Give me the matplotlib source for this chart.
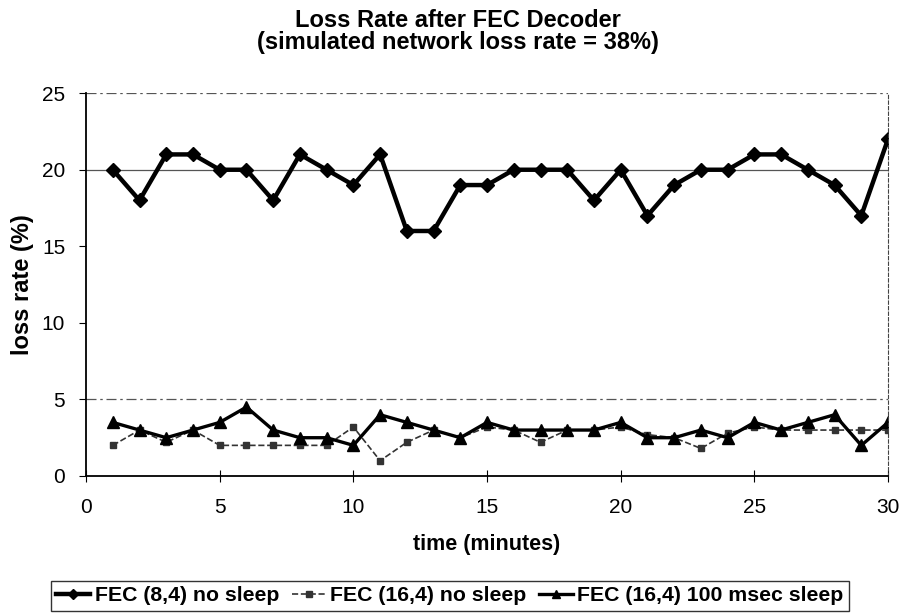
import matplotlib.pyplot as plt

plt.rcParams['font.family'] = ['Liberation Sans', 'DejaVu Sans']

minutes = list(range(1, 31))
fec84_no_sleep = [20, 18, 21, 21, 20, 20, 18, 21, 20, 19, 21, 16, 16, 19, 19,
                  20, 20, 20, 18, 20, 17, 19, 20, 20, 21, 21, 20, 19, 17, 22]
fec164_no_sleep = [2, 3, 2.2, 3, 2, 2, 2, 2, 2, 3.2, 1, 2.2, 3, 2.5, 3.2,
                   3, 2.2, 3, 3, 3.2, 2.7, 2.5, 1.8, 2.8, 3.2, 3, 3, 3, 3, 3]
fec164_100ms = [3.5, 3, 2.5, 3, 3.5, 4.5, 3, 2.5, 2.5, 2, 4, 3.5, 3, 2.5, 3.5,
                3, 3, 3, 3, 3.5, 2.5, 2.5, 3, 2.5, 3.5, 3, 3.5, 4, 2, 3.5]
labels = ['FEC (8,4) no sleep', 'FEC (16,4) no sleep', 'FEC (16,4) 100 msec sleep']

fig = plt.figure(figsize=(9.01, 6.13), dpi=100)
ax = fig.add_axes([0.0955, 0.2235, 0.8901, 0.6245])

# faint gridlines (only these survive in the scan)
for g in [5, 20, 25]:
    ax.axhline(g, color='#555555', lw=0.9, ls=(0, (8, 3, 2, 3)) if g != 20 else '-', zorder=0)

ax.plot(minutes, fec84_no_sleep, color='black', lw=3.2, marker='D', ms=7, label=labels[0])
ax.plot(minutes, fec164_no_sleep, color='#333333', lw=1.2, ls='--', marker='s', ms=5,
        label=labels[1])
ax.plot(minutes, fec164_100ms, color='black', lw=2.4, marker='^', ms=8, label=labels[2])

ax.set_xlim(0, 30)
ax.set_ylim(0, 25)
ax.set_xticks(range(0, 31, 5))
ax.set_yticks(range(0, 26, 5))
ax.tick_params(axis='x', direction='inout', length=8, labelsize=15, pad=12)
ax.tick_params(axis='y', direction='out', length=5, labelsize=15, pad=10)

for s in ['left', 'bottom']:
    ax.spines[s].set_linewidth(1.3)
ax.spines['top'].set_visible(False)
ax.spines['right'].set_linestyle((0, (3, 2)))
ax.spines['right'].set_color('#444444')

ax.set_xlabel('time (minutes)', fontsize=15.5, fontweight='bold', labelpad=12)
ax.set_ylabel('loss rate (%)', fontsize=17, fontweight='bold', labelpad=6)
fig.text(0.508, 0.948, 'Loss Rate after FEC Decoder\n(simulated network loss rate = 38%)',
         ha='center', va='center', fontsize=17, fontweight='bold', linespacing=0.95)

leg = fig.legend(loc='center', bbox_to_anchor=(0.4994, 0.028), ncol=3,
                 prop={'weight': 'bold', 'size': 15.3}, frameon=True, fancybox=False,
                 edgecolor='black', handlelength=1.6, handletextpad=0.2,
                 columnspacing=0.6, borderpad=0.25, markerscale=0.8)
leg.get_frame().set_linewidth(1.0)

fig.savefig('out.png', dpi=100)
